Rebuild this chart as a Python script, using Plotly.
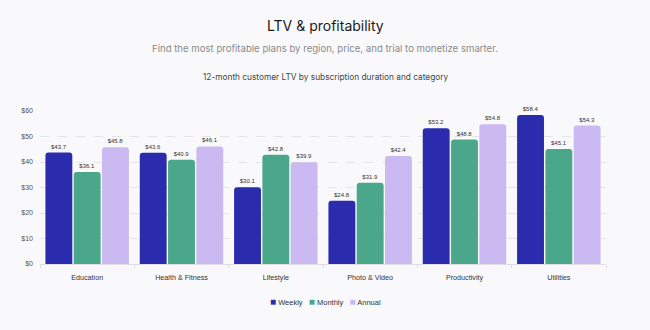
import plotly.graph_objects as go

categories = ["Education", "Health & Fitness", "Lifestyle", "Photo & Video", "Productivity", "Utilities"]
weekly = [43.7, 43.6, 30.1, 24.8, 53.2, 58.4]
monthly = [36.1, 40.9, 42.8, 31.9, 48.8, 45.1]
annual = [45.8, 46.1, 39.9, 42.4, 54.8, 54.3]
y_ticks = [0, 10, 20, 30, 40, 50, 60]

series = [
    ("Weekly", weekly, "#2b2bae"),
    ("Monthly", monthly, "#4aa78a"),
    ("Annual", annual, "#cbb9f1"),
]

BG = "#f9f9fb"
fig = go.Figure()
for name, vals, color in series:
    fig.add_trace(go.Bar(
        name=name, x=categories, y=vals,
        marker=dict(color=color, line=dict(width=0)),
        text=[f"${v:.1f}" for v in vals],
        textposition="outside",
        textfont=dict(family="Liberation Sans, Arial", size=6, color="#333333"),
        cliponaxis=False,
        showlegend=False,
    ))

fig.update_layout(
    width=650, height=330,
    paper_bgcolor=BG, plot_bgcolor=BG,
    margin=dict(l=40, r=44, t=111, b=66),
    barmode="group", bargap=0.1, bargroupgap=0.05,
    barcornerradius=3,
    uniformtext=dict(minsize=5, mode="show"),
    font=dict(family="Liberation Sans, Arial", size=8, color="#444444"),
)

fig.update_yaxes(
    range=[0, 60], tickvals=y_ticks,
    ticktext=[f"${v}" for v in y_ticks],
    showgrid=True, gridcolor="#e3e3e8", griddash="dash", gridwidth=1,
    zeroline=False, showline=False,
    tickfont=dict(size=7, color="#555555"), ticks="", ticklabelstandoff=6,
)
fig.update_xaxes(
    showline=True, linecolor="#dddde2", linewidth=1,
    ticks="outside", tickson="boundaries", ticklen=3, tickcolor="#dddde2",
    tickfont=dict(size=7.2, color="#333333"), ticklabelstandoff=6,
    showgrid=False,
)

PLOT_H = 330 - 111 - 66
PLOT_W = 650 - 40 - 44
CX = (325 - 40) / PLOT_W


def py(px):
    return 1 + (111 - px) / PLOT_H


annotations = [
    dict(text="LTV & profitability", y=25, size=14, color="#1a1a1a", family="Inter"),
    dict(text="Find the most profitable plans by region, price, and trial to monetize smarter.",
         y=48, size=9.6, color="#8a8a8a", family="Inter"),
    dict(text="12-month customer LTV by subscription duration and category",
         y=77, size=8.3, color="#444444", family="Inter"),
]
for a in annotations:
    fig.add_annotation(
        text=a["text"], xref="paper", yref="paper",
        x=CX, y=py(a["y"]),
        xanchor="center", yanchor="middle", showarrow=False,
        font=dict(size=a["size"], color=a["color"], family=a["family"]),
    )

# Compact legend row built from the series colours
legend_html = "&nbsp;&nbsp;&nbsp;".join(
    f'<span style="color:{color};font-size:10px">■</span> {name}' for name, _, color in series
)
fig.add_annotation(
    text=legend_html, xref="paper", yref="paper",
    x=CX, y=py(301), xanchor="center", yanchor="middle", showarrow=False,
    font=dict(size=7.5, color="#333333", family="Liberation Sans, Arial"),
)

fig.write_html("out.html")
